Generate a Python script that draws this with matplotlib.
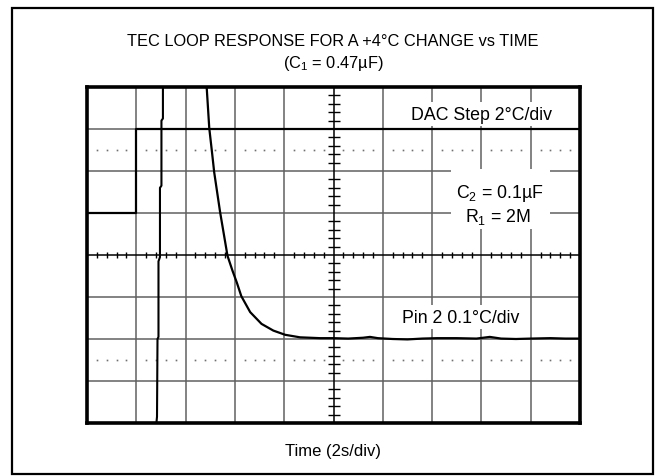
import numpy as np
import matplotlib
matplotlib.use("Agg")
import matplotlib.pyplot as plt
from matplotlib.patches import Rectangle

plt.rcParams['font.family'] = ['Liberation Sans', 'DejaVu Sans']
plt.rcParams['mathtext.fontset'] = 'custom'
plt.rcParams['mathtext.rm'] = 'Liberation Sans'
plt.rcParams['mathtext.default'] = 'regular'

# traces, in screen divisions (x: 10 div = 20 s, y: 8 div)
dac_x = [0, 1, 1, 10]
dac_y = [1, 1, 3, 3]

pin_rise_x = [1.40, 1.42, 1.43, 1.45, 1.45, 1.48, 1.48, 1.51, 1.51, 1.54, 1.54]
pin_rise_y = [-4.1, -3.85, -2.0, -1.95, -0.15, -0.05, 1.6, 1.65, 3.2, 3.25, 4.1]

pin_decay_x = [2.40, 2.43, 2.48, 2.54, 2.58, 2.70, 2.85, 2.95, 3.04, 3.13, 3.31,
               3.54, 3.78, 4.02, 4.32, 4.73, 5.0, 5.3, 5.6, 5.74, 5.9, 6.2,
               6.5, 6.8, 7.1, 7.5, 7.9, 8.17, 8.4, 8.7, 9.0, 9.4, 9.7, 10.0]
pin_decay_y = [4.3, 3.95, 3.02, 2.40, 1.97, 1.02, -0.02, -0.37, -0.66, -0.98, -1.36,
               -1.64, -1.80, -1.90, -1.96, -1.98, -1.98, -1.99, -1.97, -1.95, -1.98, -2.0,
               -2.01, -1.99, -1.98, -1.98, -1.99, -1.95, -1.99, -2.0, -1.99, -1.98, -1.99, -1.99]

title_1 = "TEC LOOP RESPONSE FOR A +4°C CHANGE vs TIME"
title_2 = "(C$_1$ = 0.47µF)"
x_label = "Time (2s/div)"

W, H = 658, 477
fig = plt.figure(figsize=(W / 100, H / 100), dpi=100)
fig.patch.set_facecolor('white')

# outer frame
fig.patches.append(Rectangle((12 / W, 1 - 475 / H), 641 / W, 466 / H,
                             transform=fig.transFigure, fill=False,
                             edgecolor='black', linewidth=1.6))

ax = fig.add_axes([87 / W, 1 - 424 / H, 493 / W, 336 / H])
ax.set_xlim(0, 10)
ax.set_ylim(-4, 4)
ax.set_xticks([])
ax.set_yticks([])
for s in ax.spines.values():
    s.set_linewidth(2.6)
    s.set_color('black')
    s.set_zorder(10)

grid_c = '#606060'
for i in range(1, 10):
    if i != 5:
        ax.axvline(i, color=grid_c, lw=1.1, zorder=1)
for j in range(-3, 4):
    if j != 0:
        ax.axhline(j, color=grid_c, lw=1.1, zorder=1)

# centre axes with minor ticks
ax.axvline(5, color='black', lw=1.1, zorder=2)
ax.axhline(0, color='black', lw=1.1, zorder=2)
minor = np.arange(0, 10.001, 0.2)
minor_x = minor[np.abs(minor - np.round(minor)) > 0.05]
minor_v = np.arange(-4, 4.001, 0.2)
minor_y = minor_v[np.abs(minor_v - np.round(minor_v)) > 0.05]
ax.plot(minor_x, np.zeros_like(minor_x), ls='none', marker='|', ms=4.5,
        mew=1.0, color='black', zorder=2)
ax.plot(np.full_like(minor_y, 5), minor_y, ls='none', marker='_', ms=8,
        mew=1.0, color='black', zorder=2)

# dotted rows
for yy in (2.5, -2.5):
    ax.plot(minor_x, np.full_like(minor_x, yy), ls='none', marker='s', ms=1.2,
            mew=0, color='#707070', zorder=1)

# traces
ax.plot(dac_x, dac_y, color='black', lw=1.6, zorder=5)
ax.plot(pin_rise_x, pin_rise_y, color='black', lw=1.5, zorder=5)
ax.plot(pin_decay_x, pin_decay_y, color='black', lw=1.6, zorder=5)

lab_fs = 12.8
box = dict(facecolor='white', edgecolor='none', boxstyle='square,pad=0.2')
ax.text(8.0, 3.24, "DAC Step 2°C/div", fontsize=lab_fs, ha='center', va='baseline',
        bbox=box, zorder=6)

# white patch behind the two component values
ax.add_patch(Rectangle((7.38, 0.62), 2.02, 1.42, facecolor='white',
                       edgecolor='none', zorder=6))
ax.text(8.38, 1.37, "C$_2$ = 0.1µF", fontsize=lab_fs, ha='center', va='baseline',
        zorder=8)
ax.text(8.34, 0.82, "R$_1$ = 2M", fontsize=lab_fs, ha='center', va='baseline',
        zorder=8)

ax.text(7.57, -1.59, "Pin 2 0.1°C/div", fontsize=lab_fs, ha='center', va='baseline',
        bbox=box, zorder=6)

fig.text(333 / W, 1 - 46 / H, title_1, fontsize=11.8, ha='center', va='baseline')
fig.text(333 / W, 1 - 68 / H, title_2, fontsize=11.8, ha='center', va='baseline')
fig.text(333 / W, 1 - 456.5 / H, x_label, fontsize=12, ha='center', va='baseline')

fig.savefig("out.png", dpi=100)
